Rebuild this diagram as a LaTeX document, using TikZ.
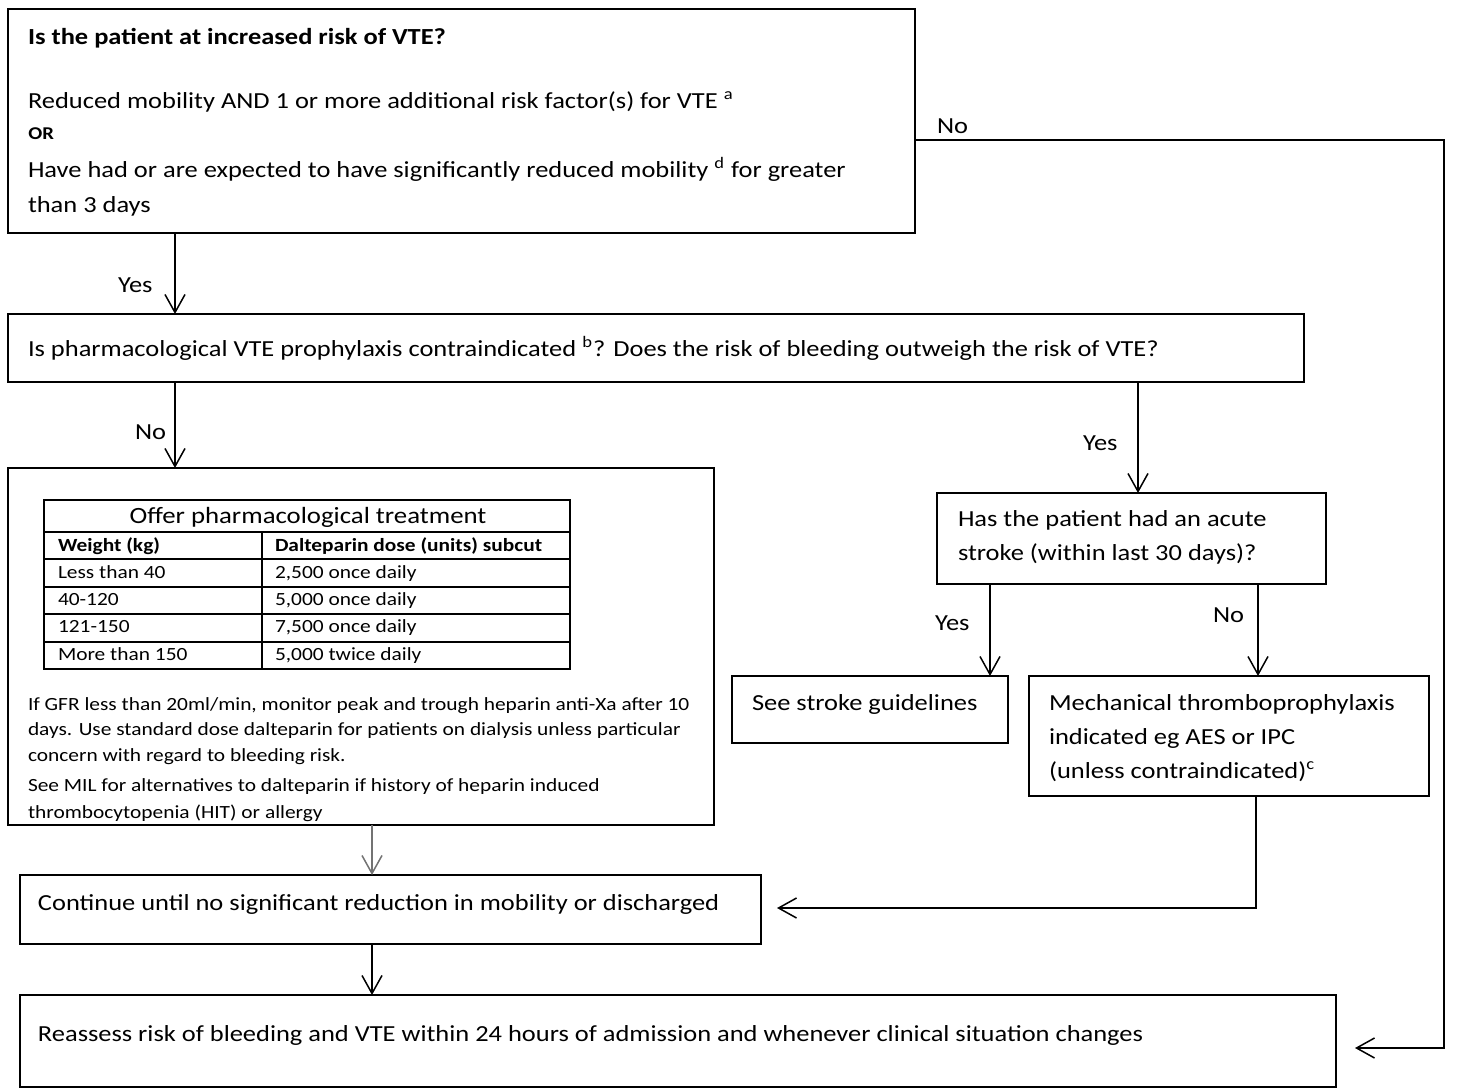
\documentclass[tikz,border=0pt]{standalone}
\usepackage{fontspec}
\setmainfont{Carlito}[FakeStretch=1.15]
\usetikzlibrary{arrows.meta,fit}
\newcommand\fsz[1]{\fontsize{#1}{#1}\selectfont}
\begin{document}
\begin{tikzpicture}[x=0.5pt,y=-0.5pt,
  box/.style={draw,line width=0.8pt,inner sep=0pt,outer sep=0pt,rectangle},
  txt/.style={anchor=base west,inner sep=0pt,outer sep=0pt,font=\fsz{11.5}},
  btxt/.style={anchor=base west,inner sep=0pt,outer sep=0pt,font=\bfseries\fsz{11.5}},
  note/.style={anchor=base west,inner sep=0pt,outer sep=0pt,font=\fsz{9.3}},
  bnote/.style={anchor=base west,inner sep=0pt,outer sep=0pt,font=\bfseries\fsz{9.3}},
  lab/.style={anchor=base west,inner sep=0pt,outer sep=0pt,font=\fsz{11.5}},
  arr/.style={line width=0.75pt,-{Straight Barb[length=9pt,width=10pt,line width=0.75pt]}},
  tline/.style={line width=0.8pt}]
\useasboundingbox (0,0) rectangle (1457,1089);

% ---------- boxes ----------
\node[box,fit={(8,9)(915,233)}] (box1) {};
\node[box,fit={(8,314)(1304,382)}] (box2) {};
\node[box,fit={(8,468)(714,825)}] (box3) {};
\node[box,fit={(937,493)(1326,584)}] (box4) {};
\node[box,fit={(732,676)(1008,743)}] (stroke) {};
\node[box,fit={(1029,676)(1429,796)}] (mech) {};
\node[box,fit={(20,875)(761,944)}] (box5) {};
\node[box,fit={(20,995)(1336,1087)}] (box6) {};

% ---------- box 1 text ----------
\node[btxt] (t1a) at (28,44) {Is the patient at increased risk of VTE?};
\node[txt] (t1b) at (28,108) {Reduced mobility AND 1 or more additional risk factor(s) for VTE \textsuperscript{a}};
\node[anchor=base west,inner sep=0pt,font=\bfseries\fsz{9}] (t1c) at (28,139) {OR};
\node[txt] (t1d) at (28,177) {Have had or are expected to have significantly reduced mobility \textsuperscript{d} for greater};
\node[txt] (t1e) at (28,212) {than 3 days};

% ---------- box 2 text ----------
\node[txt] (t2) at (28,356) {Is pharmacological VTE prophylaxis contraindicated \textsuperscript{b}? Does the risk of bleeding outweigh the risk of VTE?};

% ---------- box 3: table ----------
\node[draw,tline,inner sep=0pt,outer sep=0pt,fit={(44,500)(570,669)}] (tab) {};
\draw[tline] (44,532) -- (570,532);
\draw[tline] (44,559) -- (570,559);
\draw[tline] (44,587) -- (570,587);
\draw[tline] (44,614) -- (570,614);
\draw[tline] (44,642) -- (570,642);
\draw[tline] (262,532) -- (262,669);
\node[anchor=base,inner sep=0pt,font=\fsz{11.65}] (ttitle) at (308,523) {Offer pharmacological treatment};
\node[bnote] (th1) at (58,551) {Weight (kg)};
\node[bnote] (th2) at (275,551) {Dalteparin dose (units) subcut};
\node[note] (r1a) at (58,578) {Less than 40};
\node[note] (r1b) at (275,578) {2,500 once daily};
\node[note] (r2a) at (58,605) {40-120};
\node[note] (r2b) at (275,605) {5,000 once daily};
\node[note] (r3a) at (58,632) {121-150};
\node[note] (r3b) at (275,632) {7,500 once daily};
\node[note] (r4a) at (58,660) {More than 150};
\node[note] (r4b) at (275,660) {5,000 twice daily};

% ---------- box 3 notes ----------
\node[note] (n1) at (28,710) {If GFR less than 20ml/min, monitor peak and trough heparin anti-Xa after 10};
\node[note] (n2) at (28,735) {days. Use standard dose dalteparin for patients on dialysis unless particular};
\node[note] (n3) at (28,761) {concern with regard to bleeding risk.};
\node[note] (n4) at (28,791) {See MIL for alternatives to dalteparin if history of heparin induced};
\node[note] (n5) at (28,818) {thrombocytopenia (HIT) or allergy};

% ---------- right branch text ----------
\node[txt] (t4a) at (958,526) {Has the patient had an acute};
\node[txt] (t4b) at (958,560) {stroke (within last 30 days)?};
\node[txt] (ts) at (752,710) {See stroke guidelines};
\node[txt] (tm1) at (1049,710) {Mechanical thromboprophylaxis};
\node[txt] (tm2) at (1049,744) {indicated eg AES or IPC};
\node[txt] (tm3) at (1049,778) {(unless contraindicated)\textsuperscript{c}};

% ---------- bottom boxes text ----------
\node[txt] (t5) at (38,910) {Continue until no significant reduction in mobility or discharged};
\node[txt] (t6) at (38,1041) {Reassess risk of bleeding and VTE within 24 hours of admission and whenever clinical situation changes};

% ---------- connector coordinates ----------
\coordinate (xa) at (175,0);
\coordinate (xb) at (1138,0);
\coordinate (xc) at (990,0);
\coordinate (xd) at (1258,0);
\coordinate (xe) at (1256,0);
\coordinate (xf) at (372,0);
\coordinate (xr) at (1444,0);
\coordinate (yn) at (0,140);
\coordinate (yc) at (0,908);
\coordinate (yr) at (0,1048);

% ---------- connectors ----------
\draw[arr] (box1.south -| xa) -- (box2.north -| xa);
\draw[arr] (box2.south -| xa) -- (box3.north -| xa);
\draw[arr] (box2.south -| xb) -- (box4.north -| xb);
\draw[arr] (box4.south -| xc) -- (stroke.north -| xc);
\draw[arr] (box4.south -| xd) -- (mech.north -| xd);
\draw[arr,shorten >=8pt] (mech.south -| xe) |- (box5.east |- yc);
\draw[arr,draw=black!55] (box3.south -| xf) -- (box5.north -| xf);
\draw[arr] (box5.south -| xf) -- (box6.north -| xf);
\draw[arr,shorten >=9.5pt] (box1.east |- yn) -| (xr |- yr) -- (box6.east |- yr);

% ---------- connector labels ----------
\node[lab] (lyes1) at (118,292) {Yes};
\node[lab] (lno1) at (135,439) {No};
\node[lab] (lno0) at (937,133) {No};
\node[lab] (lyes2) at (1083,450) {Yes};
\node[lab] (lyes3) at (935,630) {Yes};
\node[lab] (lno2) at (1213,622) {No};
\end{tikzpicture}
\end{document}
